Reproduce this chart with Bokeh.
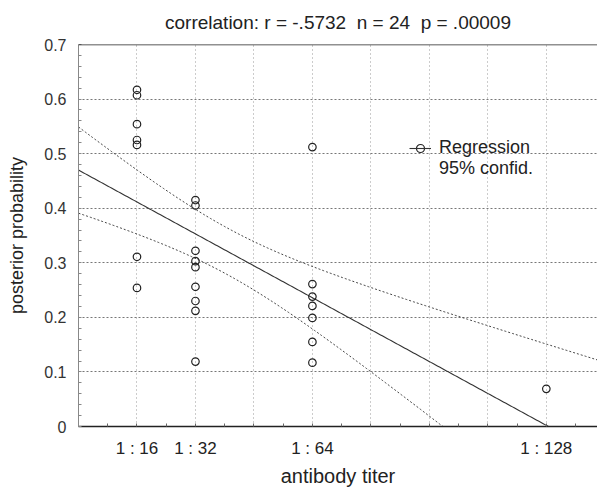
import numpy as np
from bokeh.plotting import figure
from bokeh.models import FixedTicker, Span, Legend, LegendItem
from bokeh.embed import file_html
from bokeh.resources import INLINE

# ---- data ----
titer_levels = [16, 32, 64, 128]
tick_labels = ["1 : 16", "1 : 32", "1 : 64", "1 : 128"]
prob_1_16 = [0.617, 0.607, 0.554, 0.525, 0.516, 0.311, 0.254]
prob_1_32 = [0.415, 0.405, 0.322, 0.303, 0.292, 0.256, 0.230, 0.212, 0.119]
prob_1_64 = [0.512, 0.261, 0.238, 0.221, 0.199, 0.155, 0.117]
prob_1_128 = [0.069]
y_ticks = [0, 0.1, 0.2, 0.3, 0.4, 0.5, 0.6, 0.7]
y_tick_labels = ["0", "0.1", "0.2", "0.3", "0.4", "0.5", "0.6", "0.7"]
grid_x = [16, 32, 48, 64, 80, 96, 112, 128]
title_text = "correlation: r = -.5732 \u00a0n = 24 \u00a0p = .00009"
conf_factor = 1.6  # width of the drawn confidence band

groups = [prob_1_16, prob_1_32, prob_1_64, prob_1_128]
xs = np.concatenate([[t] * len(g) for t, g in zip(titer_levels, groups)]).astype(float)
ys = np.concatenate(groups).astype(float)

# regression and confidence band computed from the points
n = len(xs)
slope, intercept = np.polyfit(xs, ys, 1)
xm = xs.mean()
sxx = ((xs - xm) ** 2).sum()
resid = ys - (intercept + slope * xs)
s = np.sqrt((resid ** 2).sum() / (n - 2))
xline = np.linspace(0, 142, 300)
yhat = intercept + slope * xline
half = conf_factor * s * np.sqrt(1.0 / n + (xline - xm) ** 2 / sxx)

FONT = "Liberation Sans"
TXT = "#222222"

p = figure(width=597, height=489, x_range=(0, 142), y_range=(0, 0.7),
           output_backend="svg", toolbar_location=None,
           min_border_left=78, min_border_right=0, min_border_top=44, min_border_bottom=50)
p.outline_line_color = None
p.background_fill_color = "white"
p.border_fill_color = "white"

p.title.text = title_text
p.title.align = "center"
p.title.vertical_align = "top"
p.title.text_font = FONT
p.title.text_font_size = "19px"
p.title.text_font_style = "normal"
p.title.text_color = TXT
p.title.standoff = 19

# axes
xa = p.xaxis[0]
xa.ticker = FixedTicker(ticks=titer_levels, minor_ticks=list(range(0, 144, 8)))
xa.major_label_overrides = {t: l for t, l in zip(titer_levels, tick_labels)}
xa.axis_label = "antibody titer"
xa.axis_line_color = "#222222"
xa.axis_line_width = 1.6
xa.major_tick_line_color = None
xa.major_tick_in = 0
xa.major_tick_out = 0
xa.minor_tick_in = 3
xa.minor_tick_out = 0
xa.minor_tick_line_color = "#666666"
xa.major_label_standoff = 12
xa.axis_label_standoff = 4
xa.major_label_text_font = FONT
xa.major_label_text_font_size = "17px"
xa.major_label_text_line_height = 1.0
xa.major_label_text_color = TXT
xa.axis_label_text_font = FONT
xa.axis_label_text_font_size = "20px"
xa.axis_label_text_line_height = 1.0
xa.axis_label_text_font_style = "normal"
xa.axis_label_text_color = TXT

ya = p.yaxis[0]
ya.ticker = FixedTicker(ticks=y_ticks, minor_ticks=[i / 50 for i in range(36)])
ya.major_label_overrides = {t: l for t, l in zip(y_ticks, y_tick_labels)}
ya.axis_label = "posterior probability"
ya.axis_line_color = "#888888"
ya.axis_line_width = 1
ya.major_tick_line_color = None
ya.minor_tick_in = 3
ya.minor_tick_out = 0
ya.minor_tick_line_color = "#888888"
ya.major_label_standoff = 6
ya.axis_label_standoff = 14
ya.major_label_text_font = FONT
ya.major_label_text_font_size = "16px"
ya.major_label_text_color = "#333333"
ya.axis_label_text_font = FONT
ya.axis_label_text_font_size = "18px"
ya.axis_label_text_font_style = "normal"
ya.axis_label_text_color = TXT

# grids
p.xgrid.ticker = FixedTicker(ticks=grid_x)
p.xgrid.grid_line_color = "#999999"
p.xgrid.grid_line_dash = "1 3"
p.xgrid.grid_line_width = 1
p.ygrid.ticker = FixedTicker(ticks=y_ticks[1:-1])
p.ygrid.grid_line_color = "#777777"
p.ygrid.grid_line_dash = "2 2"
p.ygrid.grid_line_width = 1

# top frame line
p.add_layout(Span(location=0.7, dimension="width", line_color="#222222", line_width=1.6))

# lines
reg = p.line(xline, yhat, line_color="#333333", line_width=1.1)
p.line(xline, yhat + half, line_color="#444444", line_width=1, line_dash="2 2")
p.line(xline, yhat - half, line_color="#444444", line_width=1, line_dash="2 2")

# points
pts = p.scatter(xs, ys, marker="circle", size=7.5, fill_color=None,
                line_color="#222222", line_width=1.2)

dummy = p.line([], [], line_alpha=0)

legend = Legend(items=[LegendItem(label="Regression", renderers=[pts, reg]),
                       LegendItem(label="95% confid.", renderers=[dummy])],
                location=(331, 247), orientation="vertical")
legend.background_fill_alpha = 0
legend.border_line_alpha = 0
legend.padding = 0
legend.margin = 0
legend.spacing = 0
legend.glyph_width = 22
legend.glyph_height = 20
legend.label_height = 20
legend.label_standoff = 8
legend.label_text_font = FONT
legend.label_text_font_size = "18px"
legend.label_text_color = TXT
p.add_layout(legend)

open("out.html", "w").write(file_html(p, INLINE))
